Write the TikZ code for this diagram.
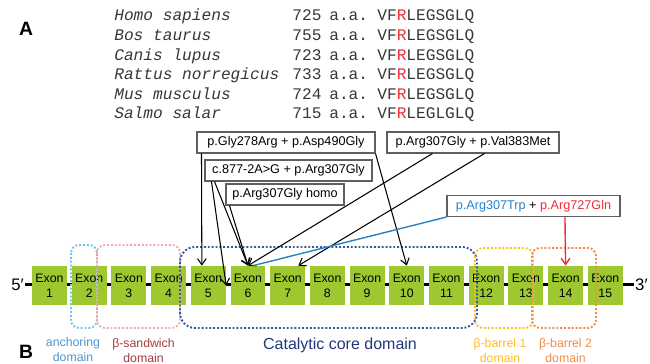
\documentclass[tikz,border=0pt]{standalone}
\usepackage{fontspec}
\setmainfont{Liberation Sans}
\newfontfamily\seqfont{Liberation Mono}
\usetikzlibrary{arrows.meta}

\definecolor{exongreen}{RGB}{158,200,48}
\definecolor{boxgray}{RGB}{95,95,95}
\definecolor{seqgray}{RGB}{55,55,55}
\definecolor{mutblue}{RGB}{40,130,200}
\definecolor{mutred}{RGB}{240,45,55}
\definecolor{anchorline}{RGB}{110,200,235}
\definecolor{anchortext}{RGB}{75,150,210}
\definecolor{sandline}{RGB}{240,170,170}
\definecolor{sandtext}{RGB}{165,60,60}
\definecolor{catline}{RGB}{50,90,155}
\definecolor{cattext}{RGB}{35,55,120}
\definecolor{barrelone}{RGB}{255,190,30}
\definecolor{barreltwo}{RGB}{242,140,70}

\tikzset{
  seqtext/.style={anchor=base west, inner sep=0pt, text=seqgray,
    font=\seqfont\fontsize{9.2}{11}\selectfont},
  exon/.style={fill=exongreen, minimum width=0.7cm, minimum height=0.78cm,
    inner sep=0pt, align=center, font=\fontsize{7}{8.5}\selectfont},
  mutbox/.style={draw=boxgray, fill=white, line width=0.6pt, minimum height=0.42cm,
    inner sep=1pt, font=\fontsize{7.2}{8}\selectfont},
  domainbox/.style={dash pattern=on 1.1pt off 1.1pt, line width=1.1pt, rounded corners=0.16cm},
  domlabel/.style={align=center, font=\fontsize{7}{8.5}\selectfont},
  hit/.style={-{Straight Barb[length=3.5pt,width=5pt]}, line width=0.6pt},
}

\begin{document}
\begin{tikzpicture}[x=0.02cm, y=-0.02cm]
\useasboundingbox (0,0) rectangle (650,364);

% panel letters
\node[font=\bfseries\fontsize{11}{13}\selectfont] (labA) at (26,29) {A};
\node[font=\bfseries\fontsize{11}{13}\selectfont] (labB) at (26,352) {B};

% conserved stretch around Arg307
\foreach \i/\y/\sp/\len/\tail in {1/21/Homo sapiens/725/GSGLQ, 2/40.6/Bos taurus/755/GSGLQ,
    3/60.2/Canis lupus/723/GSGLQ, 4/79.8/Rattus norregicus/733/GSGLQ,
    5/99.4/Mus musculus/724/GSGLQ, 6/119/Salmo salar/715/GLGLQ} {
    \node[seqtext] (sp\i) at (114,\y) {\itshape\sp};
    \node[seqtext] (len\i) at (292,\y) {\len};
    \node[seqtext] (aa\i) at (329,\y) {a.a.};
    \node[seqtext] (seq\i) at (377,\y) {VF\textcolor{mutred}{R}LE\tail};
}

% gene backbone
\coordinate (lineL) at (25,284.5);
\coordinate (lineR) at (634,284.5);
\node[anchor=east, inner sep=0.5pt, font=\fontsize{9.5}{11}\selectfont] (p5) at (lineL) {5′};
\node[anchor=west, inner sep=0.5pt, font=\fontsize{9.5}{11}\selectfont] (p3) at (lineR) {3′};
\draw[line width=1.6pt] (lineL) -- (lineR);

\foreach \i in {1,...,15} {
    \node[exon] (ex\i) at ({49.5+(\i-1)*39.7},285.5) {Exon\\\i};
}

% protein domains
\draw[domainbox, anchorline] (71,245) rectangle (97,328);
\draw[domainbox, sandline] (97,245) rectangle (180,328);
\draw[domainbox, catline, rounded corners=0.3cm] (180,247) rectangle (477,328);
\draw[domainbox, barrelone] (475,248) rectangle (533,328);
\draw[domainbox, barreltwo] (532,248) rectangle (596,328);

\node[domlabel, text=anchortext] (lAnchor) at (73,349.5) {anchoring\\domain};
\node[domlabel, text=sandtext] (lSand) at (143.5,350.5) {β-sandwich\\domain};
\node[font=\fontsize{9.1}{11}\selectfont, text=cattext] (lCat) at (340,345) {Catalytic core domain};
\node[domlabel, text=barrelone] (lBarrel1) at (500,351) {β-barrel 1\\domain};
\node[domlabel, text=barreltwo] (lBarrel2) at (565.5,351) {β-barrel 2\\domain};

% mutations
\node[mutbox, minimum width=3.56cm] (mGly) at (286,142.5) {p.Gly278Arg + p.Asp490Gly};
\node[mutbox, minimum width=3.44cm] (mVal) at (473,142.5) {p.Arg307Gly + p.Val383Met};
\node[mutbox, minimum width=3.34cm] (mSplice) at (288.5,170.5) {c.877-2A>G + p.Arg307Gly};
\node[mutbox, minimum width=2.36cm] (mHomo) at (285,194.5) {p.Arg307Gly homo};
\node[mutbox, minimum width=3.46cm] (mTrp) at (533.5,206)
    {\textcolor{mutblue}{p.Arg307Trp} + \textcolor{mutred}{p.Arg727Gln}};

\draw[hit] ([xshift=0.1cm]mGly.south west) -- (ex5.108);
\draw[hit] (mGly.south east) -- (ex10.north);
\draw[hit] ([xshift=0.14cm]mSplice.south west) -- (ex5.east);
\draw[hit] ([xshift=0.2cm]mSplice.south west) -- (ex6.north);
\draw[hit] ([xshift=0.08cm]mHomo.south west) -- (ex6.north);
\draw[hit] ([xshift=0.92cm]mVal.south west) -- (ex6.north);
\draw[hit] ([xshift=1.96cm]mVal.south west) -- (ex7.62);
\draw[mutblue, line width=0.8pt] (mTrp.south west) -- (ex6.76);
\draw[hit, mutred, line width=0.8pt] ([xshift=2.37cm]mTrp.south west) -- (ex14.north);
\end{tikzpicture}
\end{document}
